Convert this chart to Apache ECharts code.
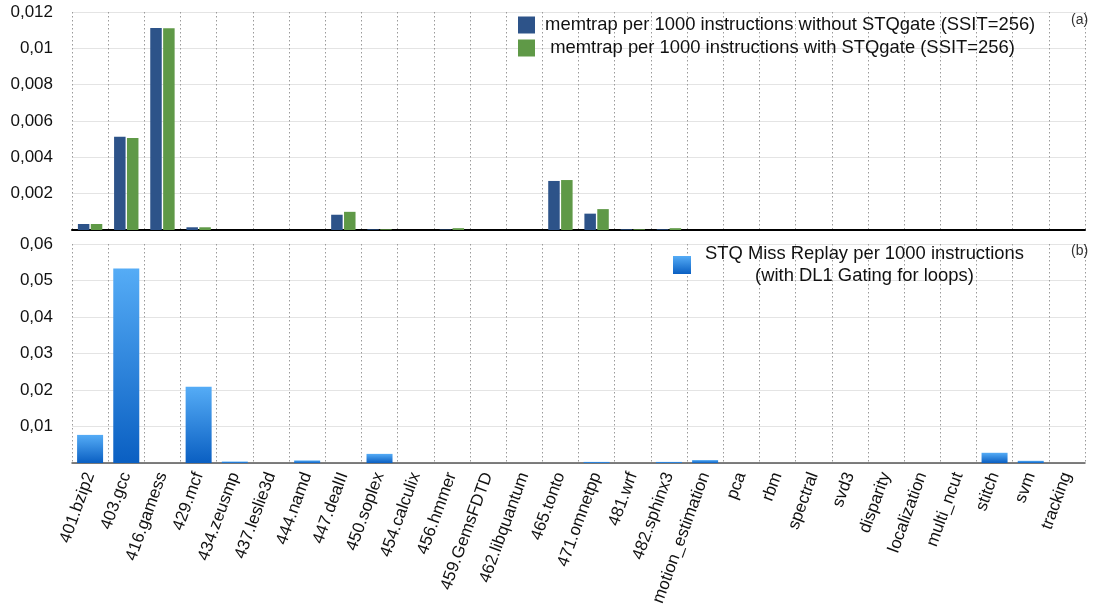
<!DOCTYPE html>
<html>
<head>
<meta charset="utf-8">
<script src="https://cdn.jsdelivr.net/npm/echarts@6/dist/echarts.min.js"></script>
<style>
html,body{margin:0;padding:0;background:#fff;}
#chart{width:1096px;height:612px;}
</style>
</head>
<body>
<div id="chart"></div>
<script>
var categories = ['401.bzip2','403.gcc','416.gamess','429.mcf','434.zeusmp','437.leslie3d','444.namd','447.dealII','450.soplex','454.calculix','456.hmmer','459.GemsFDTD','462.libquantum','465.tonto','471.omnetpp','481.wrf','482.sphinx3','motion_estimation','pca','rbm','spectral','svd3','disparity','localization','multi_ncut','stitch','svm','tracking'];
var memtrapWithout = [0.00033,0.00513,0.01112,0.00015,0,0,0,0.00084,0.00004,0,0.00003,0,0,0.0027,0.0009,0.00004,0.00004,0,0,0,0,0,0,0,0,0,0,0];
var memtrapWith    = [0.00033,0.00507,0.0111,0.00015,0,0,0,0.001,0.00004,0,0.0001,0,0,0.00275,0.00115,0.00004,0.0001,0,0,0,0,0,0,0,0,0,0,0];
var stqMissReplay  = [0.0077,0.0533,0,0.0209,0.0004,0,0.0007,0,0.0025,0,0,0,0,0,0.0003,0,0.0003,0.0008,0,0,0,0,0,0,0,0.0028,0.0006,0];
var topTicks = {max:0.012, interval:0.002};
var botTicks = {max:0.06, interval:0.01};
var nameWithout = 'memtrap per 1000 instructions without STQgate (SSIT=256)';
var nameWith = 'memtrap per 1000 instructions with STQgate (SSIT=256)';
var nameStq = 'STQ Miss Replay per 1000 instructions\n(with DL1 Gating for loops)';

var FONT = '"Liberation Sans", Arial, Helvetica, sans-serif';
function fmt(v){ return String(v).replace('.', ','); }

var chart = echarts.init(document.getElementById('chart'), null, {renderer:'canvas'});
var blueGrad = new echarts.graphic.LinearGradient(0,0,0,1,[{offset:0,color:'#55acf6'},{offset:1,color:'#0a5fc2'}]);
var LEG = 18.4;

var option = {
  backgroundColor:'#ffffff',
  animation:false,
  title:[
    {text:'(a)', left:1071, top:13, padding:0, textStyle:{fontFamily:FONT, fontSize:14, fontWeight:'normal', color:'#333'}},
    {text:'(b)', left:1071, top:244, padding:0, textStyle:{fontFamily:FONT, fontSize:14, fontWeight:'normal', color:'#333'}}
  ],
  legend:[
    {
      data:[nameWithout, nameWith],
      orient:'vertical', left:518, top:16, padding:0, itemWidth:17, itemHeight:17, itemGap:5,
      icon:'rect',
      formatter:function(n){ return n===nameWith ? '{t|  '+n+'}' : '{t| '+n+'}'; },
      textStyle:{fontFamily:FONT, fontSize:LEG, color:'#111', rich:{t:{fontFamily:FONT, fontSize:LEG, color:'#111'}}}
    },
    {
      data:[nameStq],
      left:673, top:243, padding:0, itemWidth:18, itemHeight:18, icon:'rect',
      formatter:function(n){ var p=n.split('\n'); return '{t|'+p[0]+'}\n{t|'+p[1]+'}'; },
      textStyle:{fontFamily:FONT, fontSize:LEG, color:'#111', lineHeight:22,
        rich:{t:{fontFamily:FONT, fontSize:LEG, color:'#111', align:'center', lineHeight:22, padding:[0,0,0,9]}}}
    }
  ],
  grid:[
    {left:72, top:12, width:1013, height:218},
    {left:72, top:244, width:1013, height:219}
  ],
  xAxis:[
    {type:'category', gridIndex:0, data:categories,
      axisLine:{show:true, onZero:false, lineStyle:{color:'#000', width:2}},
      axisTick:{show:false}, axisLabel:{show:false},
      splitLine:{show:true, interval:0, lineStyle:{type:[1.5,2.5], color:'#9a9a9a', width:1}}},
    {type:'category', gridIndex:1, data:categories,
      axisLine:{show:true, onZero:false, lineStyle:{color:'#555', width:1.5}},
      axisTick:{show:false},
      axisLabel:{show:true, interval:0, rotate:70, margin:10, fontFamily:FONT, fontSize:17, color:'#111'},
      splitLine:{show:true, interval:0, lineStyle:{type:[1.5,2.5], color:'#9a9a9a', width:1}}}
  ],
  yAxis:[
    {type:'value', gridIndex:0, min:0, max:topTicks.max, interval:topTicks.interval,
      axisLine:{show:false}, axisTick:{show:false},
      axisLabel:{showMinLabel:false, fontFamily:FONT, fontSize:17, color:'#111', margin:19, formatter:fmt},
      splitLine:{show:true, lineStyle:{color:'#e4e4e4', width:1}}},
    {type:'value', gridIndex:1, min:0, max:botTicks.max, interval:botTicks.interval,
      axisLine:{show:false}, axisTick:{show:false},
      axisLabel:{showMinLabel:false, fontFamily:FONT, fontSize:17, color:'#111', margin:19, formatter:fmt},
      splitLine:{show:true, lineStyle:{color:'#e4e4e4', width:1}}}
  ],
  series:[
    {name:nameWithout, type:'bar', xAxisIndex:0, yAxisIndex:0, data:memtrapWithout,
      barWidth:11.5, barGap:'12%',
      itemStyle:{color:'#2d5389'}},
    {name:nameWith, type:'bar', xAxisIndex:0, yAxisIndex:0, data:memtrapWith,
      barWidth:11.5, barGap:'12%',
      itemStyle:{color:'#5f9947'}},
    {name:nameStq, type:'bar', xAxisIndex:1, yAxisIndex:1, data:stqMissReplay,
      barWidth:26,
      itemStyle:{color:blueGrad}}
  ]
};
chart.setOption(option);
</script>
</body>
</html>
